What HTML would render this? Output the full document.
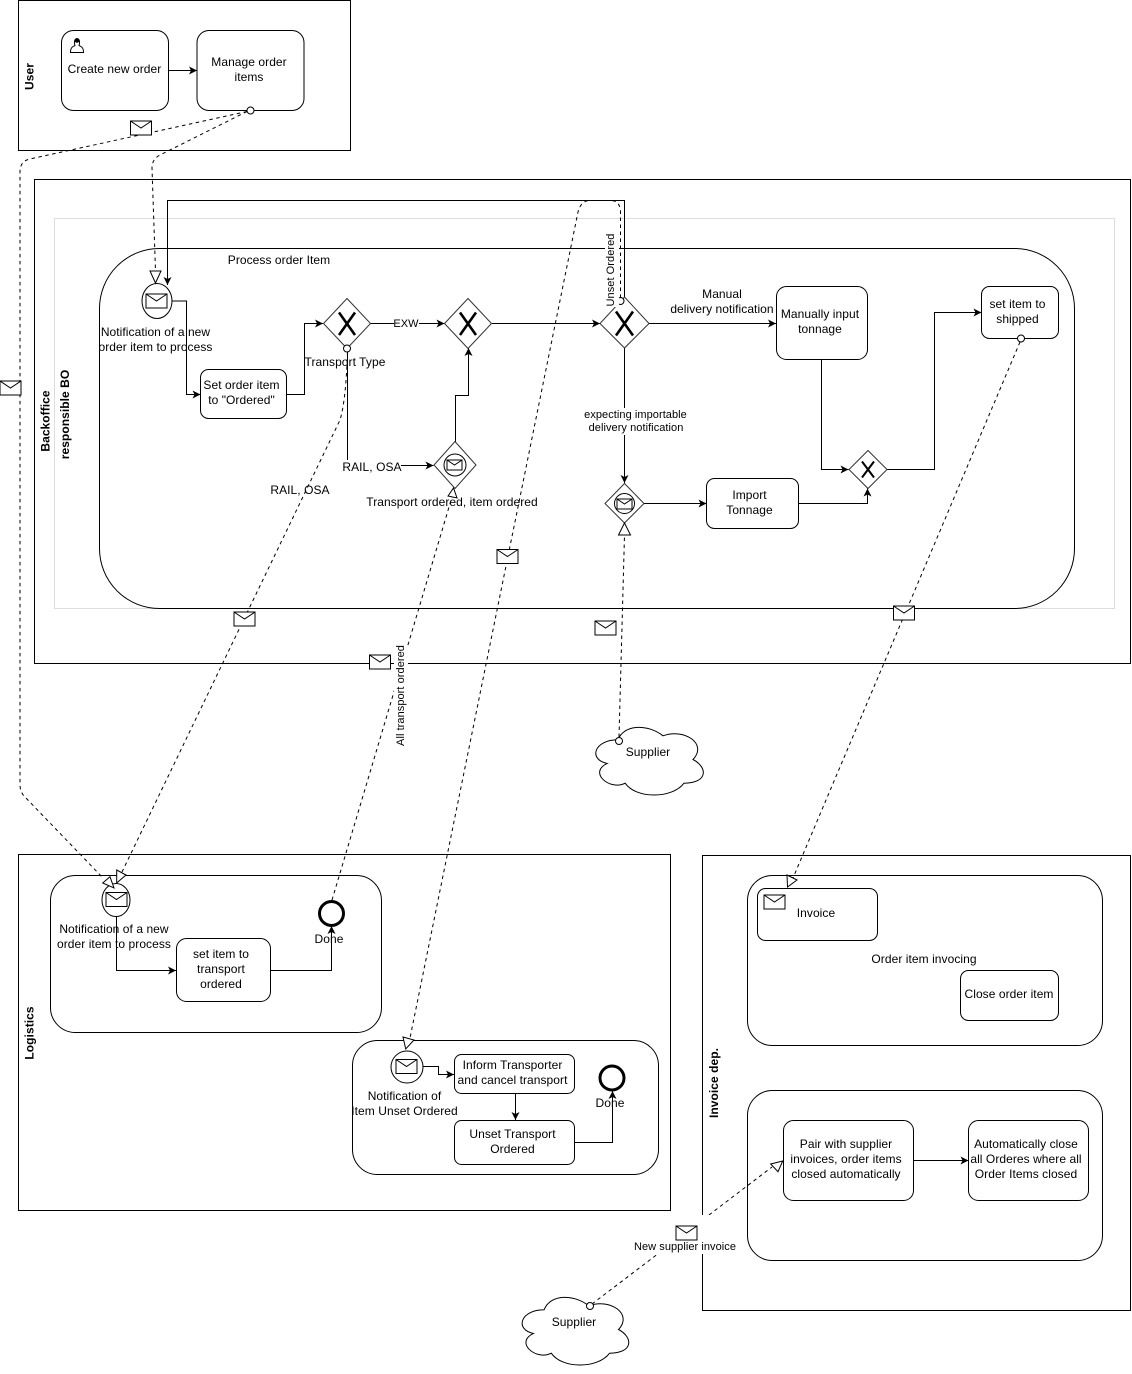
<!DOCTYPE html>
<html><head><meta charset="utf-8"><title>Order item process</title>
<style>
html,body{margin:0;padding:0;background:#fff}
svg{display:block}
text{font-family:"Liberation Sans",Arial,sans-serif;font-size:12px;fill:#000;text-anchor:middle;letter-spacing:.06px}
.b{font-weight:bold}
.s{font-size:11px}
.o{fill:none;stroke:#000;stroke-width:1}
.w{fill:#fff;stroke:#000;stroke-width:1}
.g{fill:#fff;stroke:#333;stroke-width:1}
.f{fill:none;stroke:#000;stroke-width:1;marker-end:url(#a)}
.d{fill:none;stroke:#000;stroke-width:1;stroke-dasharray:3.5 3.5}
.x{stroke:#000;stroke-width:2.6;fill:none}
</style></head><body>
<svg width="1132" height="1374" viewBox="0 0 1132 1374" xmlns="http://www.w3.org/2000/svg">
<defs>
<marker id="a" markerUnits="userSpaceOnUse" markerWidth="10" markerHeight="10" refX="8" refY="4" orient="auto"><path d="M0 0L8 4L0 8L2 4Z" fill="#000"/></marker>
<g id="e"><rect x="0" y="0" width="21" height="14" fill="#fff" stroke="#000"/><polyline points="0,0 10.5,7 21,0" fill="none" stroke="#000"/></g>
<g id="es"><rect x="0" y="0" width="15" height="10" fill="#fff" stroke="#000"/><polyline points="0,0 7.5,5 15,0" fill="none" stroke="#000"/></g>
<path id="cl" d="M.25,.25 C.05,.25 0,.5 .16,.55 C0,.66 .18,.9 .31,.8 C.4,1 .7,1 .8,.8 C1,.8 1,.6 .875,.5 C1,.3 .8,.1 .625,.2 C.5,.05 .3,.05 .25,.25Z" fill="#fff" stroke="#000" stroke-width="1" vector-effect="non-scaling-stroke"/>
</defs>
<rect width="1132" height="1374" fill="#fff"/>

<!-- pools -->
<rect class="o" x="18.5" y="0.5" width="332" height="150"/>
<rect class="o" x="34.5" y="179.5" width="1096" height="484"/>
<rect x="54.5" y="218.5" width="1060" height="390" fill="none" stroke="#dddddd"/>
<rect class="o" x="99.5" y="248.5" width="975" height="360" rx="60" ry="60"/>
<rect class="o" x="18.5" y="854.5" width="652" height="356"/>
<rect class="o" x="702.5" y="855.5" width="428" height="455"/>
<rect class="o" x="50.5" y="875.5" width="331" height="157" rx="25" ry="25"/>
<rect class="o" x="352.5" y="1040.5" width="306" height="134" rx="25" ry="25"/>
<rect class="o" x="747.5" y="875.5" width="355" height="170" rx="25" ry="25"/>
<rect class="o" x="747.5" y="1090.5" width="355" height="170" rx="25" ry="25"/>

<!-- solid flows -->
<path class="f" d="M168.5 70.5H197"/>
<path class="f" d="M624.5 297V200.5H167.5V285"/>
<path class="f" d="M172 301H186.5V394.5H200.5"/>
<path class="f" d="M286.5 394.5H304.5V323.5H323"/>
<path class="f" d="M370 323.5H444.5"/>
<path class="f" d="M347.5 348V465.5H433.5"/>
<path class="f" d="M455.5 441.5V395.5H468.5V348"/>
<path class="f" d="M492 323.5H600"/>
<path class="f" d="M649 323.5H776"/>
<path class="f" d="M821.5 359.5V469.5H848.5"/>
<path class="f" d="M887 469.5H934.5V312.5H981.5"/>
<path class="f" d="M624.5 348V483"/>
<path class="f" d="M643.5 503.5H706.5"/>
<path class="f" d="M798.5 503.5H867.5V488.5"/>
<path class="f" d="M116.5 916V970.5H176"/>
<path class="f" d="M270.5 970.5H331.5V926"/>
<path class="f" d="M423 1066.5H438.5V1074.5H454"/>
<path class="f" d="M515.5 1093.5V1120"/>
<path class="f" d="M575 1142.5H612.5V1091"/>
<path class="f" d="M913.5 1160.5H968.5"/>

<!-- tasks -->
<rect class="w" x="61.5" y="30.5" width="107" height="80" rx="12" ry="12"/>
<rect x="197" y="30.5" width="107" height="80" rx="12" ry="12" fill="#fff" stroke="#000"/>
<path d="M70.5 52.5C70.5 47 73 46.5 75 45.5C74 43 74 39 77 38.5C80 39 80 43 79 45.5C81 46.5 83.5 47 83.5 52.5Z" fill="#fff" stroke="#000"/>
<circle cx="77" cy="40.5" r="2.3" fill="#000"/>
<rect class="w" x="200.5" y="369.5" width="86" height="49" rx="8" ry="8"/>
<rect class="w" x="776.5" y="286.5" width="91" height="73" rx="10" ry="10"/>
<rect class="w" x="981.5" y="286.5" width="77" height="52" rx="8" ry="8"/>
<rect class="w" x="706.5" y="478.5" width="92" height="50" rx="8" ry="8"/>
<rect class="w" x="176.5" y="938.5" width="94" height="63" rx="10" ry="10"/>
<rect class="w" x="454.5" y="1054.5" width="120" height="39" rx="7" ry="7"/>
<rect class="w" x="454.5" y="1120.5" width="120" height="44" rx="7" ry="7"/>
<rect class="w" x="757.5" y="888.5" width="120" height="52" rx="8" ry="8"/>
<rect class="w" x="960.5" y="970.5" width="98" height="50" rx="8" ry="8"/>
<rect class="w" x="783.5" y="1120.5" width="130" height="80" rx="10" ry="10"/>
<rect class="w" x="968.5" y="1120.5" width="120" height="80" rx="10" ry="10"/>

<!-- gateways -->
<polygon class="g" points="347,298.5 370.5,323.5 347,348.5 323.5,323.5"/>
<path class="x" d="M339 312.5L355 335M355 312.5L339 335"/>
<polygon class="g" points="468,298.5 491.5,323.5 468,348.5 444.5,323.5"/>
<path class="x" d="M460 312.5L476 335M476 312.5L460 335"/>
<polygon class="g" points="624.5,297 649,323.5 624.5,348 600,323.5"/>
<path class="x" d="M616 311.5L633 335.5M633 311.5L616 335.5"/>
<polygon class="g" points="868,450.5 887,469.5 868,488.5 849,469.5"/>
<path class="x" style="stroke-width:2" d="M862 461.5L874 477.5M874 461.5L862 477.5"/>
<polygon class="g" points="455,441.5 476,465 455,488.5 434,465"/>
<circle class="w" cx="455" cy="465" r="11"/><use href="#es" x="447" y="460"/>
<polygon class="g" points="624.5,483.5 644,503.5 624.5,523 605,503.5"/>
<circle class="w" cx="624.5" cy="503.5" r="10"/><use href="#es" x="617" y="499"/>

<!-- events -->
<ellipse class="w" cx="157" cy="301" rx="15" ry="17.5"/><use href="#e" x="146" y="294"/>
<ellipse class="w" cx="116" cy="900" rx="14" ry="16.5"/><use href="#e" x="106" y="892.5"/>
<circle class="w" cx="407" cy="1067" r="16"/><use href="#e" x="396" y="1059.5" />
<circle cx="331.5" cy="913.5" r="12" fill="#fff" stroke="#000" stroke-width="3"/>
<circle cx="612" cy="1078" r="12" fill="#fff" stroke="#000" stroke-width="3"/>
<use href="#e" x="764" y="895"/>

<!-- clouds -->
<use href="#cl" transform="translate(588 720) scale(120 79)"/>
<use href="#cl" transform="translate(514.4 1290) scale(119 79)"/>

<!-- message flows -->
<path class="d" d="M247 111.5L160 155Q152 159 152 168L155.5 271"/>
<path class="d" d="M247 111.5L30 159Q20 161 20 172V785Q20 792 25 797L103 878"/>
<path class="d" d="M347.5 352Q346 400 340 420L122 872"/>
<path class="d" d="M332 900L452 497"/>
<path class="d" d="M620.5 298V212Q620 200 610 200.5H590Q581 200.5 578 212L410 1038"/>
<path class="d" d="M619 737L624.5 535"/>
<path class="d" d="M1020 342L793 878"/>
<path class="d" d="M592 1304L772 1167"/>

<!-- open triangles -->
<polygon class="w" points="150,271 161,271 155.5,283"/>
<polygon class="w" points="102.7,883 110,876.7 114,888"/>
<polygon class="w" points="116.7,870 126,875 116.7,883"/>
<polygon class="w" points="448,496 457,498 453.5,488"/>
<polygon class="w" points="403,1037 414,1040 405.7,1049"/>
<polygon class="w" points="618.5,535 630.5,535 624.5,523"/>
<polygon class="w" points="787,875 797,880 787.5,887"/>
<polygon class="w" points="770.7,1164 782.7,1161 778,1171.7"/>

<!-- terminal circles -->
<circle class="w" cx="250.5" cy="110.5" r="3.5"/>
<circle class="w" cx="347" cy="348.5" r="3.5"/>
<circle class="w" cx="620.5" cy="301" r="3.5"/>
<circle class="w" cx="1021" cy="338.5" r="3.5"/>
<circle class="w" cx="619" cy="741" r="3.5"/>
<circle class="w" cx="590" cy="1306" r="3.5"/>

<!-- label backgrounds -->
<rect x="394" y="317" width="25" height="13" fill="#fff"/>
<rect x="344" y="460" width="57" height="13" fill="#fff"/>
<rect x="585" y="408" width="101" height="27" fill="#fff"/>
<rect x="605" y="234" width="14" height="73" fill="#fff"/>
<rect x="394" y="646" width="14" height="99" fill="#fff"/>
<rect x="632" y="1215" width="106" height="39" fill="#fff"/>

<!-- message envelopes -->
<use href="#e" x="130.5" y="121"/>
<use href="#e" x="0" y="381"/>
<use href="#e" x="234" y="612"/>
<use href="#e" x="497" y="549.5"/>
<use href="#e" x="595" y="621"/>
<use href="#e" x="893.5" y="606"/>
<use href="#e" x="369.5" y="655"/>
<use href="#e" x="676" y="1226"/>

<!-- text -->
<text class="b" transform="translate(33.5 76.5) rotate(-90)">User</text>
<text class="b" transform="translate(49.5 421) rotate(-90)">Backoffice</text>
<text class="b" transform="translate(69 414.5) rotate(-90)">responsible BO</text>
<text class="b" transform="translate(33.5 1033) rotate(-90)">Logistics</text>
<text class="b" transform="translate(718 1083) rotate(-90)">Invoice dep.</text>

<text x="114.5" y="73">Create new order</text>
<text x="249" y="66">Manage order</text><text x="249" y="81">items</text>
<text x="279" y="264">Process order Item</text>
<text x="155.5" y="336">Notification of a new</text><text x="155.5" y="351">order item to process</text>
<text x="241.5" y="389">Set order item</text><text x="241.5" y="404">to "Ordered"</text>
<text x="345" y="366">Transport Type</text>
<text class="s" x="406" y="327">EXW</text>
<text x="372" y="471">RAIL, OSA</text>
<text x="300" y="494">RAIL, OSA</text>
<text x="452" y="506">Transport ordered, item ordered</text>
<text x="722" y="298">Manual</text><text x="722" y="313">delivery notification</text>
<text x="820" y="318">Manually input</text><text x="820" y="333">tonnage</text>
<text x="1017.5" y="308">set item to</text><text x="1017.5" y="323">shipped</text>
<text x="749.5" y="499">Import</text><text x="749.5" y="514">Tonnage</text>
<text class="s" x="635.5" y="418">expecting importable</text><text class="s" x="636" y="431">delivery notification</text>
<text class="s" transform="translate(614 270) rotate(-90)">Unset Ordered</text>
<text class="s" transform="translate(404 695.5) rotate(-90)">All transport ordered</text>
<text x="648" y="756">Supplier</text>
<text x="574" y="1326">Supplier</text>
<text class="s" x="685" y="1250">New supplier invoice</text>

<text x="114" y="933">Notification of a new</text><text x="114" y="948">order item to process</text>
<text x="221" y="958">set item to</text><text x="221" y="973">transport</text><text x="221" y="988">ordered</text>
<text x="329" y="943">Done</text>
<text x="404.5" y="1100">Notification of</text><text x="404.5" y="1115">Item Unset Ordered</text>
<text x="512.5" y="1069">Inform Transporter</text><text x="512.5" y="1084">and cancel transport</text>
<text x="512.5" y="1138">Unset Transport</text><text x="512.5" y="1153">Ordered</text>
<text x="610" y="1107">Done</text>
<text x="816" y="917">Invoice</text>
<text x="924" y="963">Order item invocing</text>
<text x="1009" y="998">Close order item</text>
<text x="846" y="1148">Pair with supplier</text><text x="846" y="1163">invoices, order items</text><text x="846" y="1178">closed automatically</text>
<text x="1026" y="1148">Automatically close</text><text x="1026" y="1163">all Orderes where all</text><text x="1026" y="1178">Order Items closed</text>
</svg>
</body></html>
